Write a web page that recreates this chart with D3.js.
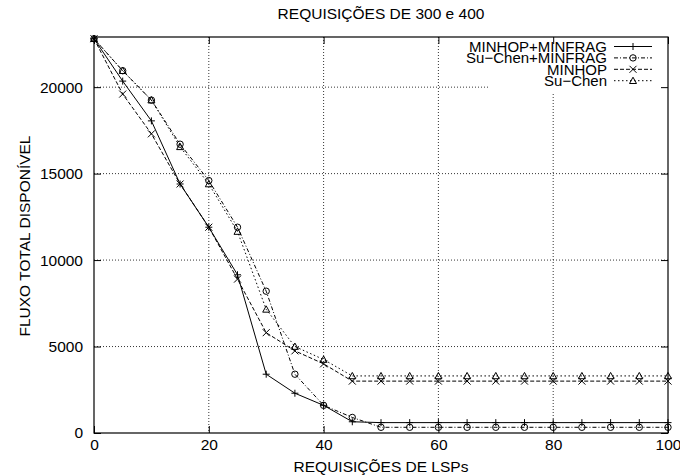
<!DOCTYPE html>
<html>
<head>
<meta charset="utf-8">
<script src="https://cdn.jsdelivr.net/npm/d3@7"></script>
<style>
  body { margin:0; background:#fff; }
  text { font-family: "Liberation Sans", Arial, sans-serif; fill:#000; }
</style>
</head>
<body>
<div id="canvas" class="canvas" style="width:680px;height:476px;"></div>
<script>
// data
var lsps = [0,5,10,15,20,25,30,35,40,45,50,55,60,65,70,75,80,85,90,95,100];
var minhopMinfrag = [22800,20350,18050,14400,11900,9150,3400,2300,1600,650,600,600,600,600,600,600,600,600,600,600,600];
var suchenMinfrag = [22800,20950,19250,16700,14600,11900,8200,3400,1600,900,330,330,330,330,330,330,330,330,330,330,330];
var minhop = [22800,19600,17300,14400,11900,8900,5800,4750,4000,3000,3000,3000,3000,3000,3000,3000,3000,3000,3000,3000,3000];
var suchen = [22800,20950,19250,16550,14400,11650,7150,5000,4250,3300,3300,3300,3300,3300,3300,3300,3300,3300,3300,3300,3300];
var xTicks = [0,20,40,60,80,100];
var yTicks = [0,5000,10000,15000,20000];

var series = [
  {name:'MINHOP+MINFRAG', values:minhopMinfrag, dash:null, mark:'plus'},
  {name:'Su\u2212Chen+MINFRAG', values:suchenMinfrag, dash:'4,2,1,2', mark:'circle'},
  {name:'MINHOP', values:minhop, dash:'4,2', mark:'cross'},
  {name:'Su\u2212Chen', values:suchen, dash:'1.5,2.5', mark:'triangle'}
];

//margin convention
var m = {t:37,r:12,b:43,l:94};
var outerWidth = 680, outerHeight = 476;
var w = outerWidth - m.l - m.r,
    h = outerHeight - m.t - m.b;

var svg = d3.select('.canvas').append('svg')
    .attr('width',outerWidth)
    .attr('height',outerHeight);

var plot = svg.append('g')
    .attr('transform','translate(' + m.l + ',' + m.t + ')');

var scaleX = d3.scaleLinear().domain([0,100]).range([0,w]);
var scaleY = d3.scaleLinear().domain([0,22900]).range([h,0]);

// grid
plot.selectAll('.gx').data(xTicks.slice(1,-1)).enter().append('line')
    .attr('x1',d=>scaleX(d)).attr('x2',d=>scaleX(d))
    .attr('y1',0).attr('y2',h)
    .style('stroke','#000').style('stroke-width',0.8).style('stroke-dasharray','1,2');
plot.selectAll('.gy').data(yTicks.slice(1)).enter().append('line')
    .attr('x1',0).attr('x2',w)
    .attr('y1',d=>scaleY(d)).attr('y2',d=>scaleY(d))
    .style('stroke','#000').style('stroke-width',0.8).style('stroke-dasharray','1,2');

// markers
function drawMark(g, type, x, y){
  var s = 3.5;
  if(type=='plus'){
    g.append('path').attr('d','M'+(x-s)+','+y+'H'+(x+s)+'M'+x+','+(y-s)+'V'+(y+s));
  } else if(type=='cross'){
    g.append('path').attr('d','M'+(x-s)+','+(y-s)+'L'+(x+s)+','+(y+s)+'M'+(x-s)+','+(y+s)+'L'+(x+s)+','+(y-s));
  } else if(type=='circle'){
    g.append('circle').attr('cx',x).attr('cy',y).attr('r',3.2);
  } else {
    g.append('path').attr('d','M'+x+','+(y-s)+'L'+(x+s)+','+(y+s*0.8)+'L'+(x-s)+','+(y+s*0.8)+'Z');
  }
}

var line = d3.line()
    .x(function(d,i){ return scaleX(lsps[i]); })
    .y(function(d){ return scaleY(d); });

series.forEach(function(s){
  plot.append('path').datum(s.values)
      .attr('d',line)
      .style('fill','none').style('stroke','#000').style('stroke-width',1)
      .style('stroke-dasharray',s.dash);
  var mg = plot.append('g').style('fill','none').style('stroke','#000').style('stroke-width',1);
  s.values.forEach(function(v,i){ drawMark(mg, s.mark, scaleX(lsps[i]), scaleY(v)); });
});

// legend box (opaque)
var key = plot.append('g');
key.append('rect')
    .attr('x',394).attr('y',0).attr('width',w-394).attr('height',57)
    .style('fill','#fff');
series.forEach(function(s,i){
  var ky = 9.5 + i*11.4;
  key.append('text').attr('x',513).attr('y',ky).attr('dy','0.35em')
      .attr('text-anchor','end').style('font-size','15px').text(s.name);
  key.append('line').attr('x1',520).attr('x2',558).attr('y1',ky).attr('y2',ky)
      .style('stroke','#000').style('stroke-width',1).style('stroke-dasharray',s.dash);
  var mg = key.append('g').style('fill','none').style('stroke','#000').style('stroke-width',1);
  drawMark(mg, s.mark, 539, ky);
});

// axes, ticks inward and mirrored
var axisL = d3.axisLeft(scaleY).tickValues(yTicks).tickFormat(d3.format('d'))
    .tickSizeInner(-7).tickSizeOuter(0).tickPadding(11);
var axisB = d3.axisBottom(scaleX).tickValues(xTicks).tickFormat(d3.format('d'))
    .tickSizeInner(-7).tickSizeOuter(0).tickPadding(6);
var axisR = d3.axisRight(scaleY).tickValues(yTicks).tickSizeInner(-7).tickSizeOuter(0).tickFormat('');
var axisT = d3.axisTop(scaleX).tickValues(xTicks).tickSizeInner(-7).tickSizeOuter(0).tickFormat('');

var gl = plot.append('g').call(axisL);
var gb = plot.append('g').attr('transform','translate(0,'+h+')').call(axisB);
plot.append('g').attr('transform','translate('+w+',0)').call(axisR);
plot.append('g').call(axisT);
plot.selectAll('.domain').remove();
plot.selectAll('.tick line').style('stroke','#000').style('stroke-width',1);
gl.selectAll('text').style('font-size','15.5px').style('font-family','"Liberation Sans", Arial, sans-serif');
gb.selectAll('text').style('font-size','15.5px').style('font-family','"Liberation Sans", Arial, sans-serif');

plot.append('rect').attr('x',0).attr('y',0).attr('width',w).attr('height',h)
    .style('fill','none').style('stroke','#000').style('stroke-width',1.2);

// titles
svg.append('text').attr('x',381).attr('y',14).attr('dy','0.35em')
    .attr('text-anchor','middle').style('font-size','15.5px').text('REQUISIÇÕES DE 300 e 400');
svg.append('text').attr('x',381).attr('y',467).attr('dy','0.35em')
    .attr('text-anchor','middle').style('font-size','15.5px').text('REQUISIÇÕES DE LSPs');
svg.append('text').attr('transform','translate(25,236) rotate(-90)').attr('dy','0.35em')
    .attr('text-anchor','middle').style('font-size','15.5px').text('FLUXO TOTAL DISPONÍVEL');
</script>
</body>
</html>
